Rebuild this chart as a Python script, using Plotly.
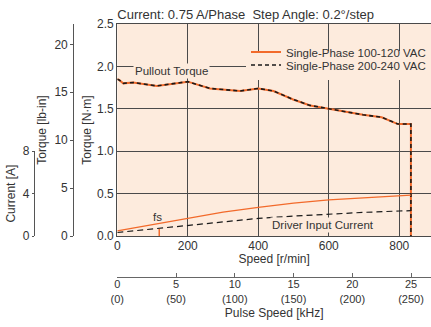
import plotly.graph_objects as go

# ---- data ----
speed_t = [0, 5, 17, 45, 112, 200, 263, 348, 400, 443, 499, 547, 600, 640, 697, 750, 796, 833, 833]
torque_nm = [1.85, 1.84, 1.80, 1.81, 1.77, 1.82, 1.74, 1.71, 1.74, 1.71, 1.61, 1.54, 1.50, 1.47, 1.43, 1.40, 1.32, 1.32, 0]

speed_c = [0, 100, 200, 300, 400, 500, 600, 700, 800, 833]
current_100 = [0.48, 1.08, 1.68, 2.25, 2.71, 3.10, 3.40, 3.62, 3.78, 3.85]
current_200 = [0.33, 0.66, 0.98, 1.32, 1.66, 1.88, 2.07, 2.23, 2.36, 2.39]

fs_speed = [119, 119]
fs_current = [0, 0.66]

speed_ticks = [0, 200, 400, 600, 800]
torque_lbin_ticks = [0, 5, 10, 15, 20]
current_ticks = [0, 4, 8]
pulse_ticks = [0, 5, 10, 15, 20, 25]
pulse_labels = ["0<br>(0)", "5<br>(50)", "10<br>(100)", "15<br>(150)", "20<br>(200)", "25<br>(250)"]

NM_TO_LBIN = 8.8507
X_MAX = 890
TORQUE_MAX = 2.5
RPM_PER_KHZ = 833.333 / 25

ORANGE = "#F26A2B"
BLACK = "#1a1a1a"
BG = "#FDEBDD"
GRID = "#4a4a4a"
AX = "#555555"
TXT = "#333333"
FONT = "Liberation Sans Narrow, Arial Narrow, Liberation Sans, Arial, sans-serif"

W, H = 431, 327
L_PX = 117.3
x_dom0 = L_PX / W
T, B = 24, 50
ph = H - T - B
y_dom0 = (H - B - 236) / ph


def py(pix):
    """paper y fraction for a pixel row"""
    return (H - B - pix) / ph


fig = go.Figure()

fig.add_trace(go.Scatter(x=speed_t, y=torque_nm, mode="lines",
                         line=dict(color=ORANGE, width=2),
                         name="Single-Phase 100-120 VAC", legend="legend2"))
fig.add_trace(go.Scatter(x=speed_t, y=torque_nm, mode="lines",
                         line=dict(color=BLACK, width=1.6, dash="4px,3px"),
                         name="Single-Phase 200-240 VAC", legend="legend"))
fig.add_trace(go.Scatter(x=speed_c, y=current_100, mode="lines", yaxis="y3",
                         line=dict(color=ORANGE, width=1.3), showlegend=False))
fig.add_trace(go.Scatter(x=speed_c, y=current_200, mode="lines", yaxis="y3",
                         line=dict(color=BLACK, width=1.2, dash="6px,4px"), showlegend=False))
fig.add_trace(go.Scatter(x=fs_speed, y=fs_current, mode="lines", yaxis="y3",
                         line=dict(color=ORANGE, width=1.5), showlegend=False))
# lb-in torque scale and pulse-speed scale (same curve expressed in secondary units, not drawn)
fig.add_trace(go.Scatter(x=speed_t, y=[v * NM_TO_LBIN for v in torque_nm], yaxis="y2",
                         mode="lines", line=dict(width=0), opacity=0,
                         showlegend=False, hoverinfo="skip"))
fig.add_trace(go.Scatter(x=[s / RPM_PER_KHZ for s in speed_t], y=torque_nm, xaxis="x2",
                         mode="lines", line=dict(width=0), opacity=0,
                         showlegend=False, hoverinfo="skip"))

tf = dict(family=FONT, size=12, color=TXT)
lf = dict(family=FONT, size=11.5, color=TXT)

fig.update_layout(
    width=W, height=H,
    margin=dict(l=0, r=0, t=T, b=B),
    paper_bgcolor="white", plot_bgcolor="rgba(0,0,0,0)",
    font=tf,
    title=dict(text="Current: 0.75 A/Phase  Step Angle: 0.2°/step",
               x=x_dom0, xanchor="left", y=1 - 14 / H, yanchor="middle",
               font=dict(family=FONT, size=13, color=TXT)),
    xaxis=dict(domain=[x_dom0, 1], range=[0, X_MAX], tickvals=speed_ticks,
               showgrid=True, gridcolor=GRID, gridwidth=1,
               showline=True, linecolor=GRID, linewidth=1.2, mirror=True,
               ticks="", zeroline=False, anchor="y", ticklabelstandoff=-2,
               title=dict(text="Speed [r/min]", standoff=3, font=tf),
               tickfont=tf, automargin=False),
    xaxis2=dict(overlaying="x", anchor="free", position=0, side="bottom",
                range=[0, X_MAX / RPM_PER_KHZ], tickvals=pulse_ticks, ticktext=pulse_labels,
                showgrid=False, zeroline=False, showline=True, linecolor="#666666", linewidth=1.2,
                ticks="inside", ticklen=4, tickcolor="#666666", ticklabelstandoff=-3,
                title=dict(text="Pulse Speed [kHz]", standoff=5, font=tf),
                tickfont=dict(family=FONT, size=11, color=TXT), automargin=False),
    yaxis=dict(domain=[y_dom0, 1], range=[0, TORQUE_MAX], dtick=0.5, tickformat=".1f",
               showgrid=True, gridcolor=GRID, gridwidth=1, zeroline=False,
               showline=True, linecolor=GRID, linewidth=1.2, ticks="",
               title=dict(text="Torque [N·m]", standoff=2, font=tf),
               tickfont=tf, automargin=False),
    yaxis2=dict(overlaying="y", anchor="free", position=73.3 / W, side="left",
                range=[0, TORQUE_MAX * NM_TO_LBIN], tickvals=torque_lbin_ticks,
                showgrid=False, zeroline=False, showline=True, linecolor=AX, linewidth=1.2,
                ticks="outside", ticklen=3, tickcolor=AX,
                title=dict(text="Torque [lb-in]", standoff=4, font=tf),
                tickfont=tf, automargin=False),
    yaxis3=dict(domain=[y_dom0, y_dom0 + (1 - y_dom0) * 1.0 / TORQUE_MAX], anchor="free",
                position=34 / W, side="left", range=[0, 8], tickvals=current_ticks,
                showgrid=False, zeroline=False, showline=True, linecolor=AX, linewidth=1.2,
                ticks="outside", ticklen=2, tickcolor=AX, ticklabeloverflow="allow",
                title=dict(text="Current [A]", standoff=3, font=tf),
                tickfont=tf, automargin=False),
    legend2=dict(x=1, xanchor="right", y=py(52), yanchor="middle",
                 bgcolor="rgba(0,0,0,0)", font=lf, itemwidth=30, borderwidth=0),
    legend=dict(x=1, xanchor="right", y=py(65), yanchor="middle",
                bgcolor=BG, font=lf, itemwidth=30, borderwidth=0),
    showlegend=True,
)

fig.add_shape(type="rect", xref="x domain", yref="y domain", x0=0, x1=1, y0=0, y1=1,
              fillcolor=BG, line=dict(width=0), layer="below")

fig.add_annotation(x=154, y=1.95, xref="x", yref="y", text="Pullout Torque", showarrow=False,
                   bgcolor=BG, font=lf, borderpad=1)
fig.add_annotation(x=583, y=0.13, xref="x", yref="y", text="Driver Input Current", showarrow=False,
                   bgcolor=BG, font=lf, borderpad=1)
fig.add_annotation(x=114, y=0.23, xref="x", yref="y", text="fs", showarrow=False, font=lf)

fig.write_html("out.html", config={"displayModeBar": False},
               post_script="document.body.style.margin='0';")
